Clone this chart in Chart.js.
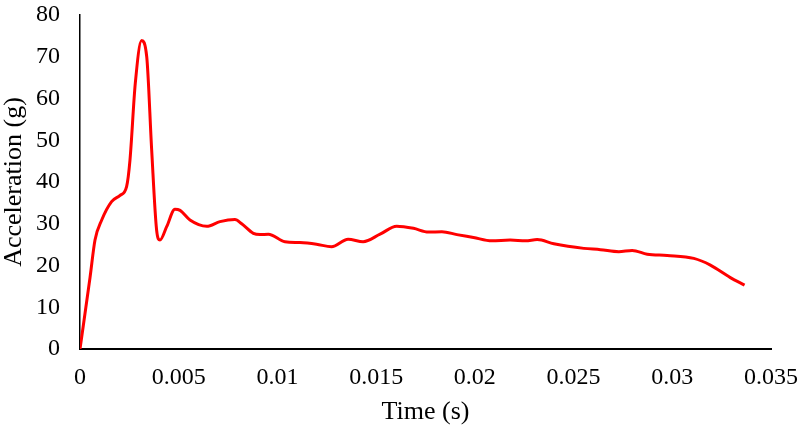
<!DOCTYPE html>
<html>
<head>
<meta charset="utf-8">
<script src="https://cdn.jsdelivr.net/npm/chart.js@4/dist/chart.umd.min.js"></script>
<style>
html,body{margin:0;padding:0;background:#fff;}
#wrap{width:798px;height:425px;}
</style>
</head>
<body>
<div id="wrap"><canvas id="c" width="798" height="425"></canvas></div>
<script>
const timeS = [0, 0.00051, 0.00076, 0.0011, 0.0016, 0.00203, 0.00236, 0.00253, 0.0028, 0.00312, 0.00338, 0.00363, 0.00388, 0.00405, 0.00439, 0.00481, 0.00507, 0.00557, 0.00642, 0.00709, 0.00785, 0.00819, 0.00878, 0.00912, 0.00954, 0.01038, 0.01114, 0.01198, 0.01274, 0.01358, 0.01434, 0.0152, 0.01604, 0.01689, 0.01765, 0.01833, 0.01909, 0.01993, 0.02086, 0.02179, 0.02257, 0.02316, 0.024, 0.02552, 0.02636, 0.02729, 0.02797, 0.02873, 0.02974, 0.03109, 0.03193, 0.03294, 0.03366];
const accelG = [0, 17.2, 26.1, 30.9, 35.3, 36.8, 38.9, 45.2, 63.6, 73.9, 70.0, 47.7, 28.5, 26.1, 29.3, 33.5, 33.2, 30.9, 29.4, 30.5, 31.0, 30.0, 27.7, 27.4, 27.5, 25.7, 25.5, 25.1, 24.5, 26.3, 25.7, 27.5, 29.4, 28.9, 28.0, 28.1, 27.4, 26.7, 25.9, 26.1, 25.9, 26.2, 25.2, 24.1, 23.8, 23.3, 23.6, 22.7, 22.4, 21.7, 20.1, 17.1, 15.3];
const xTicks = [0, 0.005, 0.01, 0.015, 0.02, 0.025, 0.03, 0.035];
const yTicks = [0, 10, 20, 30, 40, 50, 60, 70, 80];

const points = timeS.map((t, i) => ({x: t, y: accelG[i]}));
const serif = "'Liberation Serif', 'Times New Roman', serif";

new Chart(document.getElementById('c'), {
  type: 'line',
  data: {
    datasets: [{
      data: points,
      borderColor: '#ff0000',
      borderWidth: 3,
      pointRadius: 0,
      fill: false,
      cubicInterpolationMode: 'monotone'
    }]
  },
  options: {
    responsive: false,
    animation: false,
    layout: {padding: {top: 15, right: 27, left: 0, bottom: 0}},
    plugins: {legend: {display: false}, tooltip: {enabled: false}},
    scales: {
      x: {
        type: 'linear',
        min: 0, max: 0.035,
        afterBuildTicks: s => { s.ticks = xTicks.map(v => ({value: v})); },
        afterFit: s => { s.height = 76; s.paddingLeft = 0; s.paddingRight = 0; },
        grid: {display: false, drawTicks: false},
        border: {display: true, color: '#000', width: 2},
        ticks: {
          padding: 14,
          color: '#000',
          font: {family: serif, size: 24},
          maxRotation: 0,
          autoSkip: false,
          callback: v => String(Number(v.toFixed(3)))
        },
        title: {
          display: true,
          text: 'Time (s)',
          color: '#000',
          font: {family: serif, size: 26, lineHeight: 1},
          padding: {top: 0, bottom: 0}
        }
      },
      y: {
        type: 'linear',
        min: 0, max: 80,
        afterBuildTicks: s => { s.ticks = yTicks.map(v => ({value: v})); },
        afterFit: s => { s.width = 80; s.paddingTop = 0; s.paddingBottom = 0; },
        grid: {display: false, drawTicks: false},
        border: {display: true, color: '#000', width: 1.5},
        ticks: {
          padding: 20,
          color: '#000',
          font: {family: serif, size: 24},
          autoSkip: false
        },
        title: {
          display: true,
          text: 'Acceleration (g)',
          color: '#000',
          font: {family: serif, size: 26, lineHeight: 1},
          padding: {top: 1, bottom: 0}
        }
      }
    }
  }
});
</script>
</body>
</html>
